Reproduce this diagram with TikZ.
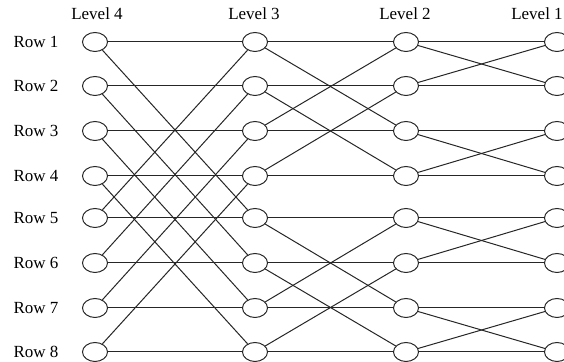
\documentclass[tikz,border=0pt]{standalone}
\usepackage{fontspec}
\setmainfont{Liberation Serif}
\usetikzlibrary{shapes.geometric}

\begin{document}
\begin{tikzpicture}
        [x=0.5pt,y=-0.5pt,line width=0.5pt,draw=black!85,
         vert/.style={ellipse,draw,fill=white,minimum width=12.5pt,minimum height=9.5pt,inner sep=0pt},
         lbl/.style={font=\fontsize{8.5}{10}\selectfont,inner sep=0pt}]
        \useasboundingbox (0,0) rectangle (564,362);

        % levels and rows
        \foreach \lev/\x in {4/97,3/254,2/405,1/537}
        \node[lbl] (lev\lev) at (\x,14) {Level \lev};
        \foreach \r/\y in {1/42,2/86,3/131,4/176,5/218,6/263,7/308,8/352}
        {
        \node[lbl] (row\r) at (36,\y) {Row \r};
        \node[vert] (n4\r) at (95,\y) {};
        \node[vert] (n3\r) at (255,\y) {};
        \node[vert] (n2\r) at (406,\y) {};
        \node[vert] (n1\r) at (557,\y) {};
        }

        \foreach \r in {1,...,8}
        {
        \draw (n4\r) -- (n3\r);
        \draw (n3\r) -- (n2\r);
        \draw (n2\r) -- (n1\r);
        }
        \foreach \from/\to in {1/5,2/6,3/7,4/8,5/1,6/2,7/3,8/4}
        \draw (n4\from) -- (n3\to);
        \foreach \from/\to in {1/3,2/4,3/1,4/2,5/7,6/8,7/5,8/6}
        \draw (n3\from) -- (n2\to);
        \foreach \from/\to in {1/2,2/1,3/4,4/3,5/6,6/5,7/8,8/7}
        \draw (n2\from) -- (n1\to);
      \end{tikzpicture}
\end{document}
